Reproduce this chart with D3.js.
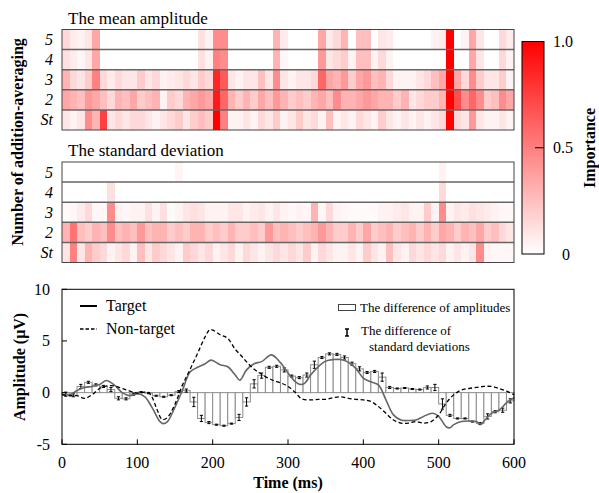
<!DOCTYPE html>
<html><head><meta charset="utf-8">
<script src="https://cdn.jsdelivr.net/npm/d3@7"></script>
<style>
body{margin:0;background:#fff}
text{font-family:"Liberation Serif","Times New Roman",serif;fill:#000}
</style></head>
<body><svg id="c" width="599" height="493"></svg>
<script>
// ---------------- DATA ----------------
const rowLabels = ["5","4","3","2","St"];
// mean amplitude importance (60 bins of 10 ms), rows top to bottom
const meanRow5 = [0.15,0.08,0.05,0.1,0.35,0,0,0,0,0, 0,0,0,0,0,0,0,0,0.12,0.05, 0.45,0.45,0,0,0,0,0,0,0.3,0.08, 0,0,0,0,0.35,0.08,0.15,0.3,0,0.25, 0.25,0,0.1,0.08,0,0,0,0,0,0.05, 0.08,1.0,0,0.05,0.35,0.1,0,0,0.15,0.08];
const meanRow4 = [0.12,0.07,0.03,0.1,0.35,0,0,0,0,0, 0,0,0,0,0,0,0,0,0.12,0.05, 0.5,0.45,0,0,0,0,0,0,0.3,0.03, 0,0,0,0,0.4,0.1,0.15,0.2,0.05,0.25, 0.25,0.05,0.15,0.05,0,0,0,0,0,0, 0,1.0,0,0,0.35,0.1,0,0,0.15,0.05];
const meanRow3 = [0.3,0.15,0.1,0.2,0.5,0.15,0.08,0.15,0.1,0.1, 0.2,0.1,0.15,0.05,0.08,0.1,0.15,0.1,0.2,0.15, 0.85,0.65,0.1,0.05,0.1,0.1,0.25,0.1,0.45,0.1, 0.05,0.1,0.1,0.15,0.6,0.35,0.3,0.4,0.2,0.35, 0.4,0.25,0.3,0.15,0.05,0.05,0.05,0.1,0.15,0.25, 0.35,1.0,0.35,0.15,0.45,0.2,0.1,0.1,0.2,0.05];
const meanRow2 = [0.35,0.3,0.25,0.4,0.35,0.25,0.15,0.3,0.25,0.35, 0.2,0.25,0.3,0.05,0.2,0.15,0.3,0.35,0.4,0.35, 0.9,0.6,0.3,0.2,0.3,0.2,0.35,0.25,0.4,0.3, 0.2,0.25,0.2,0.3,0.35,0.25,0.45,0.3,0.3,0.35, 0.4,0.35,0.3,0.3,0.2,0.3,0.1,0.15,0.2,0.2, 0.3,1.0,0.7,0.45,0.6,0.45,0.2,0.25,0.45,0.35];
const meanRowSt = [0.1,0.05,0.1,0.45,0.3,0.75,0.1,0.15,0.1,0.15, 0.15,0.1,0.05,0.1,0.15,0.2,0.1,0.2,0.25,0.2, 1.0,0.5,0.05,0.05,0.1,0.05,0.15,0.1,0.2,0.05, 0.1,0.2,0.1,0.15,0.05,0.25,0.05,0.1,0.05,0.15, 0.1,0.05,0.2,0.1,0.05,0.1,0.05,0.1,0.05,0.1, 0.15,1.0,0.15,0.1,0.4,0.1,0.05,0.05,0.1,0.05];
// standard deviation importance
const sdRow5 = [0,0,0,0,0,0,0,0,0,0, 0,0,0,0,0,0.04,0,0,0,0, 0,0,0,0,0,0,0,0,0,0, 0,0,0,0,0,0,0,0,0,0, 0,0,0,0,0,0,0,0,0,0, 0.05,0,0,0,0,0,0,0,0,0];
const sdRow4 = [0,0,0,0,0,0,0.12,0,0,0, 0,0,0,0,0,0,0,0,0,0, 0,0,0,0,0,0,0,0,0,0, 0,0,0,0,0,0,0,0,0,0, 0,0,0,0,0,0,0,0,0,0, 0.15,0,0,0,0,0,0,0,0,0];
const sdRow3 = [0.02,0.03,0.08,0.15,0.03,0.03,0.45,0.05,0.03,0.05, 0.05,0.12,0.05,0.12,0.02,0.05,0.1,0.12,0.1,0.05, 0.05,0.05,0.1,0.1,0.05,0.08,0.1,0.05,0.1,0.05, 0.03,0.05,0.03,0.3,0.03,0.15,0.05,0.03,0.02,0.02, 0.02,0.02,0.05,0.05,0.08,0.1,0.05,0.05,0.2,0.05, 0.45,0.05,0.1,0.08,0.12,0.1,0.08,0.05,0.03,0.03];
const sdRow2 = [0.3,0.55,0.25,0.2,0.3,0.25,0.45,0.25,0.3,0.25, 0.4,0.25,0.3,0.3,0.2,0.25,0.2,0.3,0.3,0.2, 0.25,0.2,0.3,0.2,0.2,0.25,0.2,0.4,0.25,0.3, 0.25,0.2,0.25,0.3,0.4,0.3,0.2,0.2,0.3,0.2, 0.35,0.2,0.25,0.3,0.2,0.25,0.3,0.2,0.3,0.2, 0.35,0.3,0.2,0.3,0.25,0.35,0.2,0.25,0.15,0.1];
const sdRowSt = [0.1,0.5,0.1,0.3,0.2,0.15,0.05,0.1,0.15,0.05, 0.25,0.1,0.2,0.15,0.1,0.05,0.2,0.15,0.1,0.15, 0.05,0.1,0.15,0.05,0.15,0.1,0.05,0.1,0.15,0.1, 0.15,0.1,0.2,0.05,0.15,0.1,0.05,0.05,0.1,0.05, 0.2,0.1,0.05,0.25,0.1,0.05,0.15,0.1,0.15,0.1, 0.15,0.05,0.1,0.05,0.1,0.45,0.05,0.03,0.03,0.03];

// bottom chart: difference of amplitudes per 10-ms bin, and SD difference (half-length of error bar)
const ampDiff = [-0.15,-0.25,0.6,1.0,0.75,0.6,0.3,-0.55,-0.6,-0.15, 0.05,-0.05,-0.3,-0.4,-0.25,0.1,0.2,-0.9,-2.5,-2.9, -3.1,-3.2,-3.0,-2.4,-0.9,0.85,1.65,2.45,2.55,2.2, 1.6,1.45,1.7,2.7,3.4,3.75,3.7,3.4,2.8,2.3, 1.95,2.05,1.5,0.5,0.4,0.45,0.35,0.3,0.5,0.5, -1.1,-2.2,-2.5,-2.5,-2.8,-3.0,-2.3,-1.85,-1.7,-0.8];
const sdDiff = [0.2,0.15,0.2,0.1,0.1,0.1,0.2,0.15,0.1,0.1, 0.05,0.05,0.05,0.05,0.05,0.1,0.15,0.45,0.3,0.1, 0.05,0.05,0.05,0.3,0.4,0.4,0.25,0.1,0.1,0.2, 0.1,0.1,0.2,0.35,0.1,0.1,0.1,0.15,0.15,0.2, 0.1,0.1,0.4,0.1,0.05,0.05,0.05,0.05,0.15,0.3, 0.5,0.1,0.05,0.05,0.05,0.1,0.25,0.1,0.2,0.2];
const targetT = [0,10,20,30,40,50,59,70,80,90,100,110,120,130,134,140,150,160,170,180,190,198,210,220,230,236,245,255,265,278,290,300,310,316,322,330,340,350,360,370,380,390,400,410,420,430,440,450,460,470,480,492,500,510,515,520,530,540,550,556,562,570,580,590,600];
const targetV = [-0.2,-0.2,0.2,0.5,0.6,0.8,1.18,0.7,0,-0.3,-0.1,-0.4,-1.5,-2.8,-3.0,-2.8,-1.4,0.25,2.0,2.45,2.8,3.15,2.7,2.5,1.7,1.2,2.2,2.8,3.0,3.65,2.9,1.9,1.05,0.8,0.9,1.7,2.5,3.05,3.2,3.2,2.95,2.35,1.4,1.05,0.75,-0.7,-2.15,-2.65,-2.7,-2.65,-2.3,-2.0,-2.3,-3.3,-3.4,-3.1,-2.8,-2.75,-2.8,-3.05,-2.6,-2.0,-1.7,-1.0,-0.5];
const nonTargetT = [0,10,20,30,40,50,60,70,80,90,100,110,115,120,126,133,140,150,160,170,180,190,197,210,220,230,240,250,260,270,280,290,300,310,318,330,340,350,360,370,380,390,400,410,420,430,440,450,460,470,480,490,500,510,520,530,540,550,560,570,580,590,600];
const nonTargetV = [-0.2,-0.3,-0.3,-0.55,-0.2,0.4,0.65,0.65,0.4,0.15,-0.05,0.05,0.0,-0.5,-1.6,-2.6,-2.4,-1.1,0.75,2.25,3.8,5.4,6.1,5.6,5.25,4.2,3.4,2.6,2.0,1.55,1.2,0.95,0.6,0.0,-0.6,-0.7,-0.65,-0.65,-0.5,-0.4,-0.55,-0.65,-0.7,-0.85,-1.35,-2.0,-2.65,-2.95,-2.95,-2.8,-2.95,-2.8,-2.15,-1.0,-0.2,0.25,0.4,0.5,0.6,0.6,0.4,0.15,-0.2];
const xTicks = [0,100,200,300,400,500,600];
const yTicks = [-5,0,5,10];
const cbTicks = [{v:1,label:"1.0"},{v:0.5,label:"0.5"},{v:0,label:"0"}];

// ---------------- DRAW ----------------
const svg = d3.select("#c");
const x = d3.scaleLinear().domain([0,600]).range([62,514]);
const color = d3.scaleLinear().domain([0,1]).range(["#ffffff","#ff0000"]).interpolate(d3.interpolateRgb);

function heatmap(rows, top, bottom, title) {
  const y = d3.scaleBand().domain(rowLabels).range([top,bottom]);
  const g = svg.append("g");
  rows.forEach((vals, r) => {
    g.selectAll(null).data(vals).enter().append("rect")
      .attr("x", (d,i)=>x(i*10)).attr("width", (d,i)=>x(i*10+10)-x(i*10)+0.3)
      .attr("y", y(rowLabels[r])).attr("height", y.bandwidth())
      .attr("fill", d=>color(d)).attr("shape-rendering","crispEdges");
  });
  rowLabels.slice(1).forEach(l=>{
    g.append("line").attr("x1",62).attr("x2",514).attr("y1",y(l)).attr("y2",y(l))
      .attr("stroke","#666").attr("stroke-width",1.5);
  });
  g.append("rect").attr("x",62).attr("y",top).attr("width",452).attr("height",bottom-top)
    .attr("fill","none").attr("stroke","#444").attr("stroke-width",1);
  g.selectAll(null).data(rowLabels).enter().append("text")
    .attr("x",53).attr("y",d=>y(d)+y.bandwidth()/2+5.5).attr("text-anchor","end")
    .attr("font-style","italic").attr("font-size",16).text(d=>d);
  g.append("text").attr("x",68).attr("y",top-6).attr("font-size",17).text(title);
}
heatmap([meanRow5,meanRow4,meanRow3,meanRow2,meanRowSt], 29.5, 130, "The mean amplitude");
heatmap([sdRow5,sdRow4,sdRow3,sdRow2,sdRowSt], 162, 262.5, "The standard deviation");

svg.append("text").attr("transform","translate(23,142) rotate(-90)").attr("text-anchor","middle")
  .attr("font-weight","bold").attr("font-size",16).text("Number of addition-averaging");

// colorbar
const cb = d3.scaleLinear().domain([0,1]).range([254,41.5]);
const defs = svg.append("defs");
const grad = defs.append("linearGradient").attr("id","cbg").attr("x1",0).attr("x2",0).attr("y1",1).attr("y2",0);
grad.append("stop").attr("offset","0%").attr("stop-color",color(0));
grad.append("stop").attr("offset","100%").attr("stop-color",color(1));
svg.append("rect").attr("x",522).attr("y",cb(1)).attr("width",22).attr("height",cb(0)-cb(1))
  .attr("fill","url(#cbg)").attr("stroke","#000").attr("stroke-width",1);
svg.append("line").attr("x1",535).attr("x2",544).attr("y1",cb(0.5)).attr("y2",cb(0.5)).attr("stroke","#000");
svg.selectAll(null).data(cbTicks).enter().append("text")
  .attr("x",d=>d.v===0?566:563).attr("y",d=>cb(d.v)+5.5).attr("text-anchor","middle").attr("font-size",16).text(d=>d.label);
svg.append("text").attr("transform","translate(595,148) rotate(-90)").attr("text-anchor","middle")
  .attr("font-weight","bold").attr("font-size",16).text("Importance");

// bottom chart
const yb = d3.scaleLinear().domain([-5,10]).range([444.3,289.3]);
const gb = svg.append("g");
// bars
gb.selectAll(null).data(ampDiff).enter().append("rect")
  .attr("x",(d,i)=>x(i*10)).attr("width",(d,i)=>x(i*10+10)-x(i*10))
  .attr("y",d=>yb(Math.max(0,d))).attr("height",d=>Math.abs(yb(d)-yb(0)))
  .attr("fill","#fff").attr("stroke","#8c8c8c").attr("stroke-width",1);
// error bars
const eb = gb.selectAll(null).data(ampDiff).enter().append("g");
eb.append("line").attr("x1",(d,i)=>x(i*10+5)).attr("x2",(d,i)=>x(i*10+5))
  .attr("y1",(d,i)=>yb(d+sdDiff[i])).attr("y2",(d,i)=>yb(d-sdDiff[i])).attr("stroke","#000").attr("stroke-width",1);
[1,-1].forEach(s=>{
  eb.append("line").attr("x1",(d,i)=>x(i*10+5)-1.6).attr("x2",(d,i)=>x(i*10+5)+1.6)
    .attr("y1",(d,i)=>yb(d+s*sdDiff[i])).attr("y2",(d,i)=>yb(d+s*sdDiff[i])).attr("stroke","#000").attr("stroke-width",1);
});
// lines
const line = d3.line().curve(d3.curveCatmullRom.alpha(0.5));
gb.append("path").attr("d",line(targetT.map((t,i)=>[x(t),yb(targetV[i])])))
  .attr("fill","none").attr("stroke","#666").attr("stroke-width",1.6);
gb.append("path").attr("d",line(nonTargetT.map((t,i)=>[x(t),yb(nonTargetV[i])])))
  .attr("fill","none").attr("stroke","#000").attr("stroke-width",1.3).attr("stroke-dasharray","4,2.5");
// frame & ticks
gb.append("rect").attr("x",62).attr("y",yb(10)).attr("width",452).attr("height",yb(-5)-yb(10))
  .attr("fill","none").attr("stroke","#000").attr("stroke-width",1);
gb.selectAll(null).data(xTicks).enter().append("line")
  .attr("x1",d=>x(d)).attr("x2",d=>x(d)).attr("y1",yb(-5)).attr("y2",yb(-5)-5).attr("stroke","#000");
gb.selectAll(null).data(yTicks).enter().append("line")
  .attr("x1",62).attr("x2",67).attr("y1",d=>yb(d)).attr("y2",d=>yb(d)).attr("stroke","#000");
gb.selectAll(null).data(xTicks).enter().append("text")
  .attr("x",d=>x(d)).attr("y",468).attr("text-anchor","middle").attr("font-size",16).text(d=>d);
gb.selectAll(null).data(yTicks).enter().append("text")
  .attr("x",50).attr("y",d=>yb(d)+5.5).attr("text-anchor","end").attr("font-size",16).text(d=>d);
svg.append("text").attr("x",288).attr("y",488).attr("text-anchor","middle")
  .attr("font-weight","bold").attr("font-size",16).text("Time (ms)");
svg.append("text").attr("transform","translate(25,367) rotate(-90)").attr("text-anchor","middle")
  .attr("font-weight","bold").attr("font-size",16).text("Amplitude (\u03bcV)");

// legends
const lg = svg.append("g");
lg.append("line").attr("x1",80).attr("x2",97).attr("y1",306).attr("y2",306).attr("stroke","#000").attr("stroke-width",2);
lg.append("text").attr("x",106).attr("y",311).attr("font-size",16).text("Target");
lg.append("line").attr("x1",80).attr("x2",97).attr("y1",329).attr("y2",329).attr("stroke","#000").attr("stroke-width",1.3).attr("stroke-dasharray","3.5,2");
lg.append("text").attr("x",106).attr("y",334).attr("font-size",16).text("Non-target");
lg.append("rect").attr("x",338.5).attr("y",304.5).attr("width",17).attr("height",6).attr("fill","#fff").attr("stroke","#444");
lg.append("text").attr("x",360).attr("y",312).attr("font-size",13).text("The difference of amplitudes");
lg.append("line").attr("x1",347).attr("x2",347).attr("y1",329).attr("y2",336).attr("stroke","#000").attr("stroke-width",1.5);
lg.append("line").attr("x1",345).attr("x2",349).attr("y1",329).attr("y2",329).attr("stroke","#000").attr("stroke-width",1.5);
lg.append("line").attr("x1",345).attr("x2",349).attr("y1",336).attr("y2",336).attr("stroke","#000").attr("stroke-width",1.5);
lg.append("text").attr("x",361).attr("y",335).attr("font-size",13).text("The difference of");
lg.append("text").attr("x",369).attr("y",351).attr("font-size",13).text("standard deviations");
</script></body></html>
